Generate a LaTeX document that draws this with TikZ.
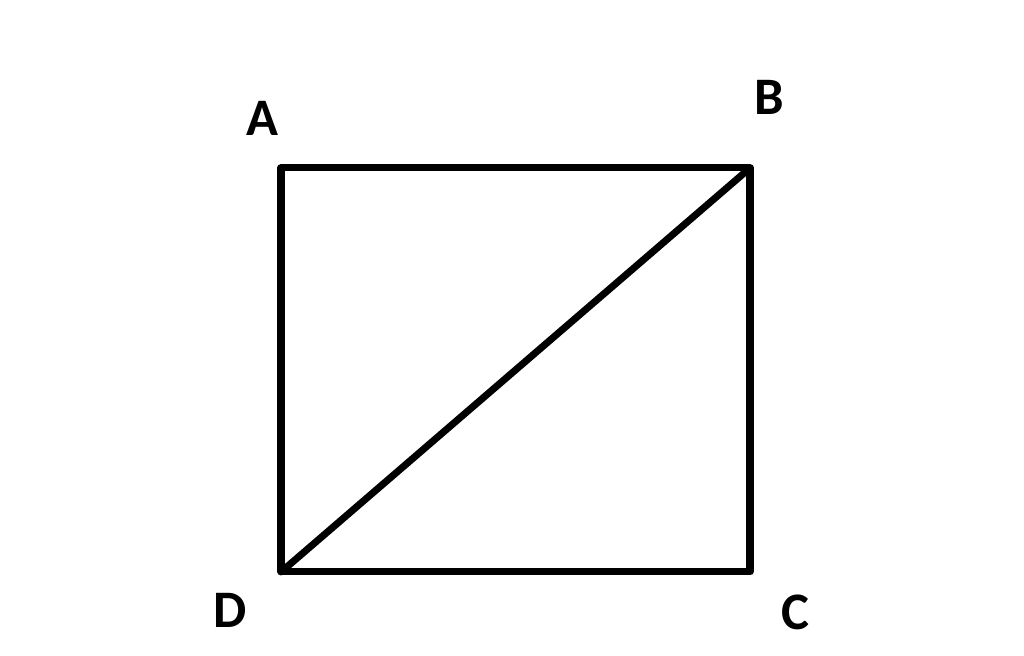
\documentclass[tikz,border=0pt]{standalone}
\usepackage{fontspec}
\setmainfont{Carlito}
\usepackage{tikz}
\usetikzlibrary{positioning,calc}

\begin{document}
\begin{tikzpicture}[
    corner/.style={font=\fontsize{15}{17}\selectfont\bfseries, inner sep=0pt},
    edge/.style={line width=2pt, line cap=round, line join=round}
]
    \useasboundingbox (0,0) rectangle (10.24,6.56);

    % Corners of the rectangle
    \coordinate (A) at (2.81, 4.88);
    \coordinate (B) at (7.50, 4.88);
    \coordinate (C) at (7.50, 0.84);
    \coordinate (D) at (2.81, 0.84);

    % Labels
    \node[corner] (labA) at (2.62, 5.38) {A};
    \node[corner] (labB) at (7.69, 5.59) {B};
    \node[corner] (labC) at (7.95, 0.44) {C};
    \node[corner] (labD) at (2.30, 0.46) {D};

    % Rectangle and diagonal
    \draw[edge] (A) -- (B) -- (C) -- (D) -- cycle;
    \draw[edge] (D) -- (B);

\end{tikzpicture}
\end{document}
